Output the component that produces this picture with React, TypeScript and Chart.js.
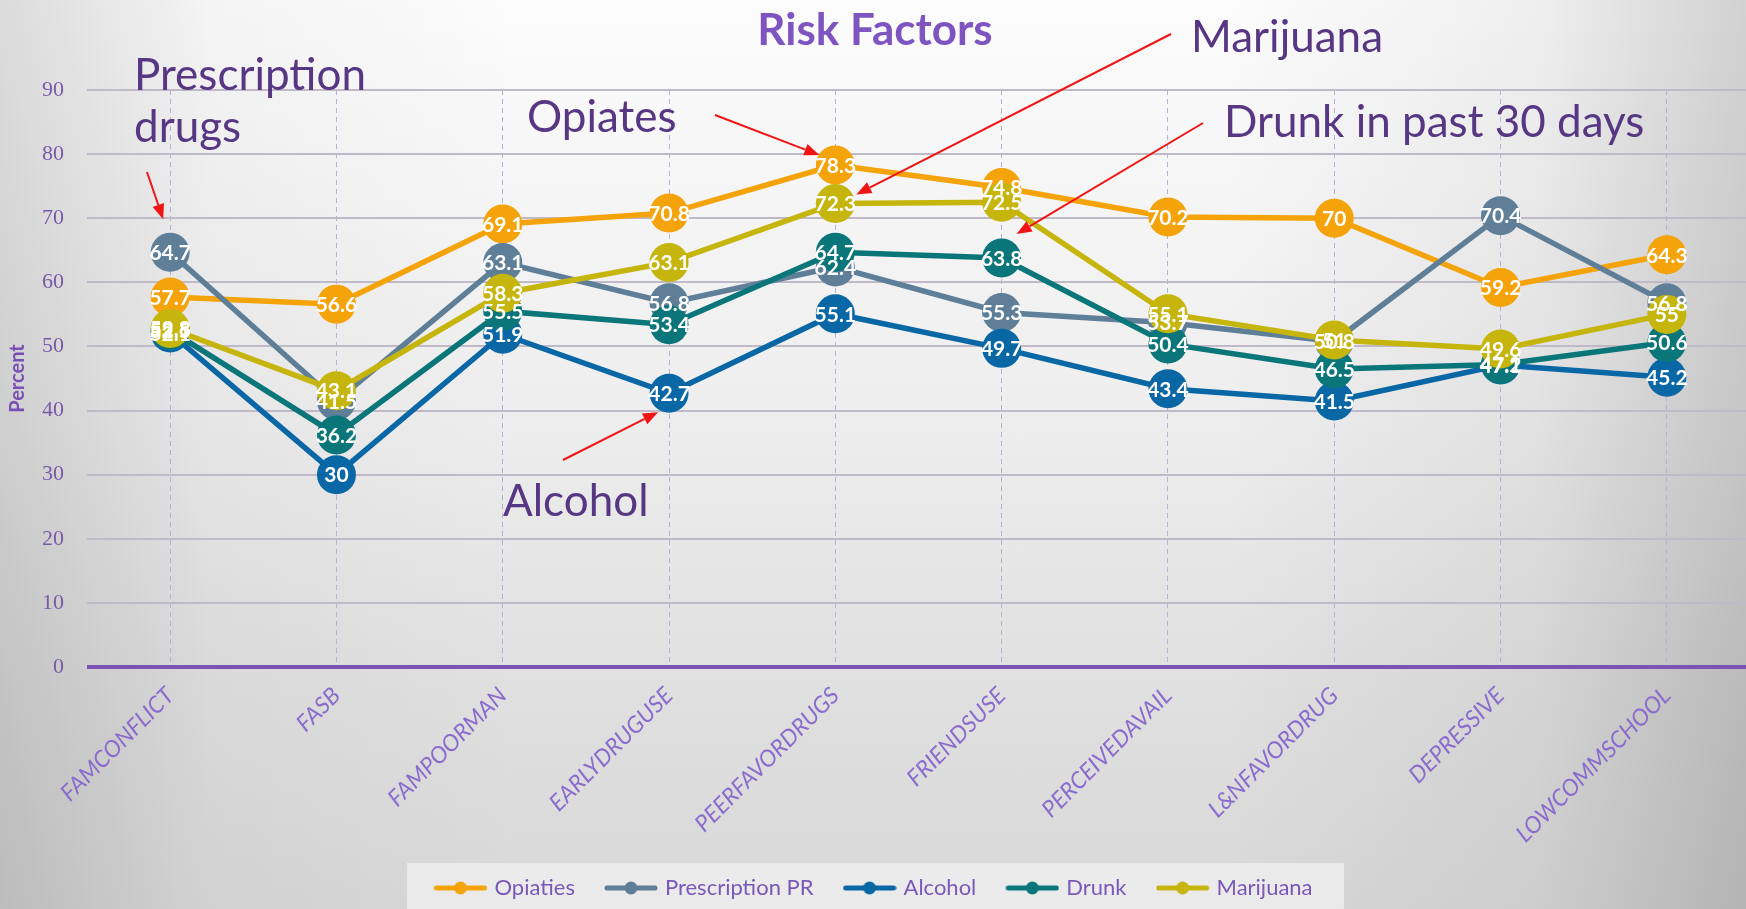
import React, { useEffect, useRef } from "react";
import { Chart, registerables } from "chart.js";

Chart.register(...registerables);

// ---- data ----
const categories = [
  "FAMCONFLICT",
  "FASB",
  "FAMPOORMAN",
  "EARLYDRUGUSE",
  "PEERFAVORDRUGS",
  "FRIENDSUSE",
  "PERCEIVEDAVAIL",
  "L&NFAVORDRUG",
  "DEPRESSIVE",
  "LOWCOMMSCHOOL",
];
const opiates = [57.7, 56.6, 69.1, 70.8, 78.3, 74.8, 70.2, 70, 59.2, 64.3];
const prescription = [64.7, 41.5, 63.1, 56.8, 62.4, 55.3, 53.7, 50.8, 70.4, 56.8];
const alcohol = [52.1, 30, 51.9, 42.7, 55.1, 49.7, 43.4, 41.5, 47.1, 45.2];
const drunk = [52.5, 36.2, 55.5, 53.4, 64.7, 63.8, 50.4, 46.5, 47.2, 50.6];
const marijuana = [52.8, 43.1, 58.3, 63.1, 72.3, 72.5, 55.1, 51, 49.6, 55];
const seriesNames = ["Opiaties", "Prescription PR", "Alcohol", "Drunk", "Marijuana"];
const seriesColors = ["#F5A30A", "#5F7E98", "#0A67A5", "#0B767A", "#C6B50D"];
const yMin = 0;
const yMax = 90;
const yStep = 10;

// annotation callouts: text lines, text anchor, arrow start, arrow target (series, category)
const callouts = [
  { lines: ["Prescription", "drugs"], x: 134, y: 90, lineGap: 52, from: [147, 172], series: 1, cat: 0, dx: -7, dy: -33 },
  { lines: ["Opiates"], x: 527, y: 132, lineGap: 0, from: [715, 115], series: 0, cat: 4, dx: -16, dy: -10 },
  { lines: ["Marijuana"], x: 1191, y: 52, lineGap: 0, from: [1171, 34], series: 4, cat: 4, dx: 21, dy: -9 },
  { lines: ["Drunk in past 30 days"], x: 1224, y: 137, lineGap: 0, from: [1203, 123], series: 3, cat: 5, dx: 15, dy: -24 },
  { lines: ["Alcohol"], x: 503, y: 516, lineGap: 0, from: [563, 460], series: 2, cat: 3, dx: -11, dy: 19 },
];

const W = 1750;
const H = 909;

function makeMarker(color: string): HTMLCanvasElement {
  const c = document.createElement("canvas");
  c.width = 54;
  c.height = 16;
  const g = c.getContext("2d")!;
  g.strokeStyle = color;
  g.lineWidth = 5;
  g.lineCap = "round";
  g.beginPath();
  g.moveTo(3, 8);
  g.lineTo(51, 8);
  g.stroke();
  g.fillStyle = color;
  g.beginPath();
  g.arc(27, 8, 6.5, 0, Math.PI * 2);
  g.fill();
  return c;
}

const legendBackground = {
  id: "legendBackground",
  beforeDraw(chart: any) {
    const lg = chart.legend;
    if (!lg || !lg.lineWidths) return;
    const ctx = chart.ctx;
    const total = lg.lineWidths[0];
    const cx = (lg.left + lg.right) / 2;
    const left = cx - total / 2 - 14;
    const right = cx + total / 2 + 15;
    ctx.save();
    ctx.fillStyle = "rgba(242,242,242,0.7)";
    ctx.fillRect(left, 863, right - left, H - 863);
    ctx.restore();
  },
};

const valueLabels = {
  id: "valueLabels",
  afterDatasetsDraw(chart: any) {
    const ctx = chart.ctx;
    ctx.save();
    ctx.font = "bold 21px Lato";
    ctx.fillStyle = "#ffffff";
    ctx.textAlign = "center";
    ctx.textBaseline = "middle";
    chart.data.datasets.forEach((ds: any, i: number) => {
      const meta = chart.getDatasetMeta(i);
      meta.data.forEach((pt: any, j: number) => {
        ctx.fillText(String(ds.data[j]), pt.x, pt.y + 1);
      });
    });
    ctx.restore();
  },
};

const calloutPlugin = {
  id: "callouts",
  afterDraw(chart: any) {
    const ctx = chart.ctx;
    ctx.save();
    ctx.font = "44px Lato";
    ctx.textAlign = "left";
    ctx.textBaseline = "alphabetic";
    callouts.forEach((c) => {
      ctx.fillStyle = "#573683";
      c.lines.forEach((t, k) => ctx.fillText(t, c.x, c.y + k * c.lineGap));
      const meta = chart.getDatasetMeta(c.series);
      const pt = meta.data[c.cat];
      const tx = pt.x + c.dx;
      const ty = pt.y + c.dy;
      const [fx, fy] = c.from;
      const ang = Math.atan2(ty - fy, tx - fx);
      const headLen = 15;
      const headW = 6;
      const bx = tx - headLen * Math.cos(ang);
      const by = ty - headLen * Math.sin(ang);
      ctx.strokeStyle = "#F01414";
      ctx.fillStyle = "#F01414";
      ctx.lineWidth = 2;
      ctx.beginPath();
      ctx.moveTo(fx, fy);
      ctx.lineTo(bx, by);
      ctx.stroke();
      ctx.beginPath();
      ctx.moveTo(tx, ty);
      ctx.lineTo(bx + headW * Math.sin(ang), by - headW * Math.cos(ang));
      ctx.lineTo(bx - headW * Math.sin(ang), by + headW * Math.cos(ang));
      ctx.closePath();
      ctx.fill();
    });
    ctx.restore();
  },
};

export default function App() {
  const ref = useRef<HTMLCanvasElement>(null);

  useEffect(() => {
    if (!ref.current) return;
    const markers = seriesColors.map(makeMarker);
    const seriesData = [opiates, prescription, alcohol, drunk, marijuana];
    const chart = new Chart(ref.current, {
      type: "line",
      data: {
        labels: categories,
        datasets: seriesData.map((d, i) => ({
          label: seriesNames[i],
          data: d,
          borderColor: seriesColors[i],
          backgroundColor: seriesColors[i],
          pointBackgroundColor: seriesColors[i],
          pointBorderWidth: 0,
          pointRadius: 19.5,
          pointHoverRadius: 19.5,
          borderWidth: 5.5,
          tension: 0,
          fill: false,
          order: 5 - i,
        })),
      },
      options: {
        animation: false,
        responsive: false,
        events: [],
        layout: { padding: 0, autoPadding: false },
        plugins: {
          title: {
            display: true,
            text: "Risk Factors",
            color: "#7E55C0",
            font: { family: "Lato", size: 44, weight: "bold", lineHeight: 1.2 },
            padding: { top: 4, bottom: 33.2 },
          },
          legend: {
            position: "bottom",
            labels: {
              usePointStyle: true,
              pointStyleWidth: 46,
              color: "#7A58B8",
              font: { family: "Lato", size: 22 },
              padding: 33,
              sort: (a: any, b: any) => a.datasetIndex - b.datasetIndex,
              generateLabels: (chart: any) => {
                const items = (Chart as any).defaults.plugins.legend.labels.generateLabels(chart);
                return items.map((it: any) => ({
                  ...it,
                  pointStyle: markers[it.datasetIndex],
                  fontColor: "#7A58B8",
                }));
              },
            },
          },
          tooltip: { enabled: false },
        },
        scales: {
          x: {
            type: "category",
            offset: true,
            grid: { offset: false, color: "#B7B0D8", lineWidth: 1, drawTicks: false },
            border: { display: false, dash: [5, 4] },
            ticks: {
              color: "#8A6CCE",
              font: { family: "Lato", size: 23, style: "italic" },
              minRotation: 45,
              maxRotation: 45,
              autoSkip: false,
              padding: 15,
            },
            afterFit: (s: any) => {
              s.height = 177;
              s.paddingRight = 0;
              s.paddingLeft = 0;
            },
          },
          y: {
            min: yMin,
            max: yMax,
            ticks: {
              stepSize: yStep,
              color: "#7A5AA8",
              font: { family: "Liberation Serif", size: 22 },
              padding: 23,
            },
            grid: {
              color: (c: any) => (c.tick && c.tick.value === 0 ? "#7B52B5" : "#BFB9C8"),
              lineWidth: (c: any) => (c.tick && c.tick.value === 0 ? 4 : 2),
              drawTicks: false,
            },
            border: { display: false },
            title: {
              display: true,
              text: "Percent",
              color: "#7A4FB5",
              font: { family: "Lato", size: 20, weight: "bold" },
              padding: { top: 6, bottom: 0 },
            },
            afterFit: (s: any) => {
              s.width = 87;
            },
          },
        },
      },
      plugins: [legendBackground, valueLabels, calloutPlugin],
    } as any);
    return () => chart.destroy();
  }, []);

  return (
    <div
      style={{
        position: "absolute",
        left: 0,
        top: 0,
        width: 1746,
        height: H,
        overflow: "hidden",
        background:
          "linear-gradient(to right, rgba(0,0,0,0.13) 0%, rgba(0,0,0,0.03) 12%, rgba(0,0,0,0) 30%, rgba(0,0,0,0) 70%, rgba(0,0,0,0.05) 88%, rgba(0,0,0,0.17) 100%), linear-gradient(to bottom, #fcfcfc 0%, #eeeeee 45%, #e0e0e0 75%, #d8d8d8 100%)",
      }}
    >
      <canvas ref={ref} width={W} height={H} style={{ display: "block", width: W, height: H }} />
    </div>
  );
}
